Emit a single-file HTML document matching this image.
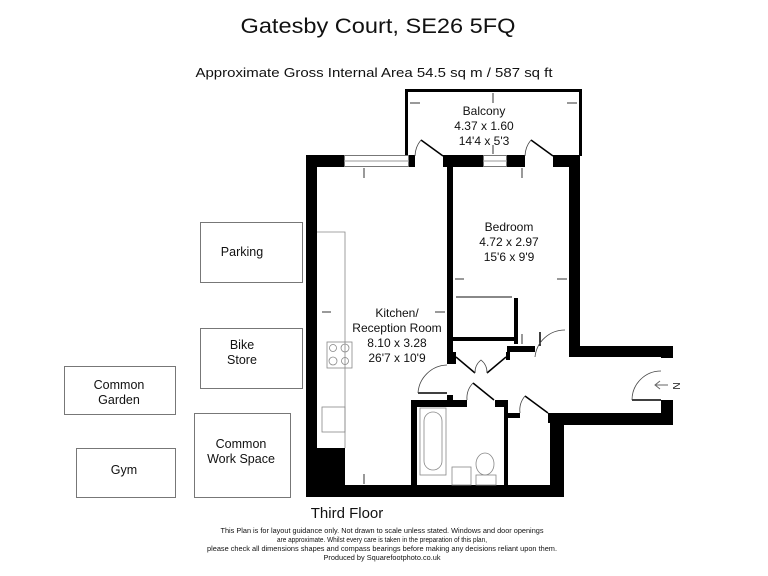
<!DOCTYPE html>
<html><head><meta charset="utf-8"><style>
html,body{margin:0;padding:0;background:#fff;}
svg{display:block;}
text{font-family:"Liberation Sans",sans-serif;fill:#111;}
</style></head><body>
<svg width="768" height="576" viewBox="0 0 768 576" xmlns="http://www.w3.org/2000/svg">
<text x="378" y="33" font-size="21" text-anchor="middle" textLength="275" lengthAdjust="spacingAndGlyphs">Gatesby Court, SE26 5FQ</text>
<text x="374" y="77" font-size="13" text-anchor="middle" textLength="357" lengthAdjust="spacingAndGlyphs">Approximate Gross Internal Area  54.5 sq m / 587 sq ft</text>

<!-- side boxes -->
<g fill="none" stroke="#777" stroke-width="1">
<rect x="200.5" y="222.5" width="102" height="60"/>
<rect x="200.5" y="328.5" width="102" height="60"/>
<rect x="64.5" y="366.5" width="111" height="48"/>
<rect x="194.5" y="413.5" width="96" height="84"/>
<rect x="76.5" y="448.5" width="99" height="49"/>
</g>
<g font-size="12.5" text-anchor="middle">
<text x="242" y="256">Parking</text>
<text x="242" y="349">Bike</text><text x="242" y="364">Store</text>
<text x="119" y="389">Common</text><text x="119" y="404">Garden</text>
<text x="241" y="448">Common</text><text x="241" y="463">Work Space</text>
<text x="124" y="474">Gym</text>
</g>

<!-- balcony -->
<path d="M406.5 156 V90.5 H580.5 V156" fill="none" stroke="#000" stroke-width="3"/>

<g fill="#000">
<!-- top wall -->
<rect x="306" y="155" width="38" height="12"/>
<rect x="409" y="155" width="6" height="12"/>
<rect x="443" y="155" width="40" height="12"/>
<rect x="507" y="155" width="18" height="12"/>
<rect x="553" y="155" width="27" height="12"/>
<!-- left wall -->
<rect x="306" y="155" width="11" height="342"/>
<rect x="306" y="448" width="39" height="49"/>
<!-- bottom wall -->
<rect x="306" y="485" width="258" height="12"/>
<!-- bedroom right wall -->
<rect x="569" y="155" width="11" height="202"/>
<!-- corridor top wall -->
<rect x="569" y="346" width="104" height="11"/>
<rect x="661" y="346" width="12" height="12"/>
<rect x="661" y="400" width="12" height="25"/>
<rect x="550" y="413" width="123" height="12"/>
<rect x="550" y="413" width="14" height="84"/>
<!-- internal walls -->
<rect x="447" y="167" width="6" height="197"/>
<rect x="447" y="395" width="6" height="12"/>
<rect x="411" y="400" width="56" height="7"/>
<rect x="411" y="400" width="6" height="85"/>
<rect x="495" y="400" width="13" height="7"/>
<rect x="504" y="400" width="4" height="85"/>
<rect x="504" y="413" width="16" height="5"/>
<rect x="548" y="413" width="4" height="10"/>
<rect x="453" y="337" width="64" height="4"/>
<rect x="514" y="298" width="4" height="46"/>
<rect x="507" y="346" width="28" height="6"/>
<rect x="453" y="352" width="3" height="12"/>
<rect x="506" y="352" width="4" height="8"/>
</g>
<!-- windows -->
<g fill="#fff" stroke="#777" stroke-width="1">
<rect x="344.5" y="155.5" width="64" height="11"/>
<rect x="483.5" y="155.5" width="23" height="11"/>
</g>
<line x1="344" y1="161" x2="409" y2="161" stroke="#999"/>
<line x1="483" y1="161" x2="507" y2="161" stroke="#999"/>

<!-- doors -->
<g fill="none" stroke="#000" stroke-width="1.5">
<line x1="421" y1="140" x2="443" y2="156"/>
<line x1="531" y1="140" x2="553" y2="156"/>
<line x1="540" y1="332" x2="540" y2="346"/>
<line x1="418" y1="393" x2="447" y2="393"/>
<line x1="456" y1="357" x2="475" y2="373"/>
<line x1="506" y1="357" x2="487" y2="373"/>
<line x1="473" y1="383" x2="494" y2="400"/>
<line x1="525" y1="396" x2="548" y2="413"/>
<line x1="632" y1="400" x2="661" y2="400"/>
</g>
<g fill="none" stroke="#444" stroke-width="0.8">
<path d="M415 156 A26 26 0 0 1 421 140"/>
<path d="M525 156 A26 26 0 0 1 531 140"/>
<path d="M535 357 A30 30 0 0 1 565 330"/>
<path d="M418 393 A30 30 0 0 1 447 365"/>
<path d="M473 383 A22 22 0 0 0 467 400"/>
<path d="M525 396 A22 22 0 0 0 520 413"/>
<path d="M632 400 A29 29 0 0 1 661 371"/>
<path d="M475 373 A16 16 0 0 1 481 360 A16 16 0 0 1 487 373"/>
<line x1="456" y1="297" x2="512" y2="297" stroke="#888" stroke-width="2"/>
</g>

<!-- kitchen fittings -->
<g fill="none" stroke="#888" stroke-width="0.8">
<path d="M317 232 H345 V448"/>
<rect x="327" y="342" width="25" height="26"/>
<circle cx="333" cy="348" r="3.5"/><circle cx="345" cy="348" r="4"/>
<circle cx="333" cy="361" r="4"/><circle cx="345" cy="361" r="3.5"/>
<rect x="322" y="407" width="23" height="25"/>
<rect x="420" y="408" width="26" height="67"/>
<rect x="424" y="412" width="18" height="58" rx="9"/>
<rect x="452" y="467" width="19" height="18"/>
<ellipse cx="485" cy="464" rx="9" ry="11"/>
<rect x="476" y="475" width="20" height="10"/>
</g>

<!-- dimension arrows -->
<g stroke="#000" stroke-width="0.8">
<line x1="493" y1="93" x2="493" y2="103"/><line x1="493" y1="145" x2="493" y2="154"/>
<line x1="410" y1="103" x2="420" y2="103"/><line x1="567" y1="103" x2="577" y2="103"/>
<line x1="364" y1="168" x2="364" y2="178"/><line x1="322" y1="312" x2="331" y2="312"/>
<line x1="435" y1="312" x2="445" y2="312"/><line x1="364" y1="474" x2="364" y2="484"/>
<line x1="455" y1="279" x2="464" y2="279"/><line x1="557" y1="279" x2="567" y2="279"/>
<line x1="522" y1="334" x2="522" y2="344"/><line x1="522" y1="168" x2="522" y2="178"/>
</g>

<text x="673" y="386" font-size="10" transform="rotate(90 673 386)" text-anchor="middle">N</text>
<path d="M668 385 L655 385 M660 381 L655 385 L660 389" fill="none" stroke="#666"/>

<g font-size="12" text-anchor="middle">
<text x="484" y="115">Balcony</text><text x="484" y="130">4.37 x 1.60</text><text x="484" y="145">14'4 x 5'3</text>
<text x="509" y="231">Bedroom</text><text x="509" y="246">4.72 x 2.97</text><text x="509" y="261">15'6 x 9'9</text>
<text x="397" y="317">Kitchen/</text><text x="397" y="332">Reception Room</text><text x="397" y="347">8.10 x 3.28</text><text x="397" y="362">26'7 x 10'9</text>
</g>

<text x="347" y="518" font-size="15" text-anchor="middle">Third Floor</text>
<g font-size="7" text-anchor="middle">
<text x="382" y="533" textLength="323" lengthAdjust="spacingAndGlyphs">This Plan is for layout guidance only. Not drawn to scale unless stated. Windows and door openings</text>
<text x="382" y="542" textLength="210" lengthAdjust="spacingAndGlyphs">are approximate. Whilst every care is taken in the preparation of this plan,</text>
<text x="382" y="551" textLength="350" lengthAdjust="spacingAndGlyphs">please check all dimensions shapes and compass bearings before making any decisions reliant upon them.</text>
<text x="382" y="560" textLength="117" lengthAdjust="spacingAndGlyphs">Produced by Squarefootphoto.co.uk</text>
</g>
</svg>
</body></html>
